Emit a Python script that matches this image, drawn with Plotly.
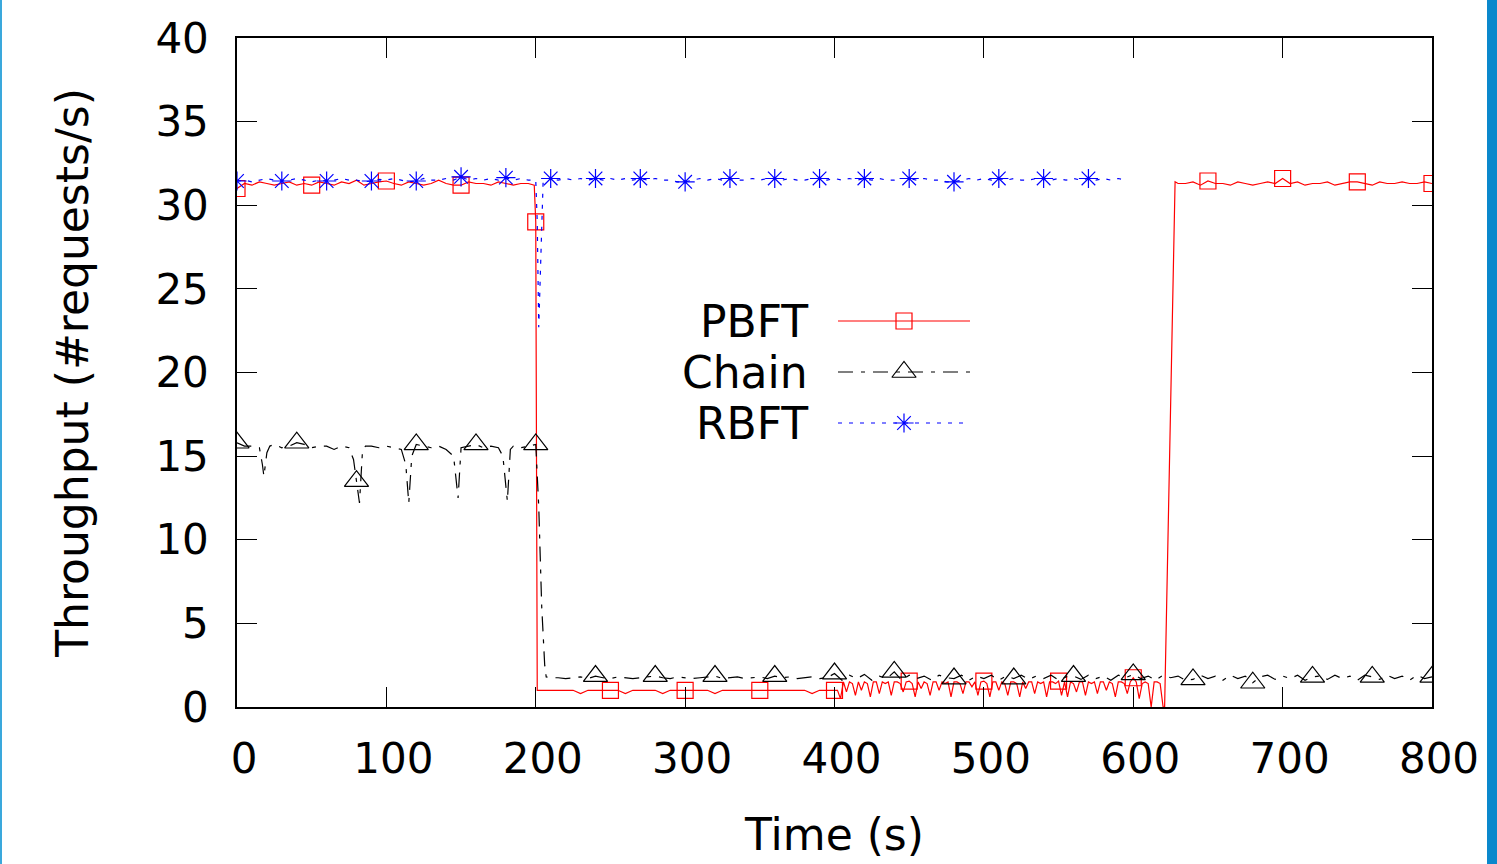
import plotly.graph_objects as go

# ---------------- data ----------------
# PBFT
PBFT_T = (list(range(0, 200, 5)) + [199, 200, 201] + list(range(205, 400, 5))
          + list(range(400, 620, 2)) + [620, 621, 628] + list(range(630, 801, 5)))
PBFT_Y = (
    [31.0, 31.3, 31.2, 31.4, 31.3, 31.2, 31.3, 31.4, 31.2, 31.3,
     31.2, 31.4, 31.3, 31.2, 31.4, 31.3, 31.5, 31.2, 31.3, 31.4,
     31.45, 31.3, 31.2, 31.4, 31.3, 31.2, 31.3, 31.5, 31.3, 31.2,
     31.2, 31.4, 31.3, 31.3, 31.2, 31.4, 31.3, 31.2, 31.3, 31.3]
    + [31.2, 29.0, 1.0]
    + [1.0, 1.0, 1.0, 1.0, 1.0, 0.8, 1.0, 1.0, 1.0, 1.0,
       1.0, 0.8, 1.0, 1.0, 1.0, 1.0, 0.8, 1.0, 1.0, 1.0,
       1.0, 1.0, 1.0, 0.8, 1.0, 1.0, 1.0, 1.0, 1.0, 1.0,
       1.0, 1.0, 1.0, 1.0, 1.0, 1.0, 0.8, 1.0, 1.0]
    + [1.0, 1.0, 0.5, 1.5, 0.9, 1.5, 1.4, 0.7, 1.5, 1.0,
       1.5, 1.4, 0.6, 1.5, 1.5, 0.8, 1.5, 1.4, 1.5, 0.7,
       1.5, 1.5, 1.4, 0.9, 1.5, 1.55, 1.4, 0.6, 1.5, 1.1,
       1.5, 1.4, 0.7, 1.5, 1.5, 1.0, 1.5, 1.4, 1.5, 0.6,
       1.5, 1.5, 1.4, 0.8, 1.5, 1.5, 1.2, 1.5, 0.7, 1.5,
       1.55, 1.4, 0.6, 1.5, 1.5, 1.0, 1.5, 1.4, 0.7, 1.5,
       1.5, 1.4, 0.6, 1.5, 1.1, 1.5, 1.5, 0.8, 1.5, 1.4,
       1.5, 0.6, 1.5, 1.5, 1.4, 1.55, 0.7, 1.5, 0.6, 1.5,
       1.4, 0.9, 1.5, 1.5, 0.7, 1.5, 1.4, 1.5, 0.8, 1.5,
       1.5, 1.0, 1.5, 1.4, 0.6, 1.5, 1.5, 1.4, 0.8, 1.5,
       1.75, 1.5, 0.5, 1.4, 1.5, 1.4, 0.0, 1.5, 1.5, 1.4]
    + [0.0, 0.0, 31.4]
    + [31.3, 31.3, 31.4, 31.2, 31.45, 31.3, 31.3, 31.2, 31.4, 31.3,
       31.2, 31.3, 31.4, 31.3, 31.6, 31.3, 31.4, 31.2, 31.3, 31.3,
       31.4, 31.2, 31.3, 31.4, 31.4, 31.3, 31.2, 31.4, 31.3, 31.3,
       31.4, 31.3, 31.3, 31.4, 31.3]
)

# Chain
CHAIN_T = ([0, 5, 10, 15, 17, 18, 20, 22, 25, 30, 35, 40, 45, 50, 55, 60, 65, 70, 75, 78,
            80, 82, 84, 86, 90, 95, 100, 105, 110, 113, 115, 117, 120, 125, 130, 135, 140,
            145, 148, 150, 155, 160, 165, 170, 175, 178, 181, 183, 185, 190, 195, 200, 202,
            204, 206, 207] + list(range(210, 801, 5)))
CHAIN_Y = (
    [15.8, 15.6, 15.6, 15.5, 14.5, 13.8, 15.2, 15.6, 15.7, 15.5, 15.6, 15.8, 15.7, 15.5,
     15.6, 15.6, 15.4, 15.6, 15.5, 14.8, 13.5, 12.2, 15.3, 15.6, 15.6, 15.5, 15.6, 15.5,
     15.4, 14.5, 12.2, 15.0, 15.7, 15.6, 15.5, 15.6, 15.4, 15.0, 12.5, 15.5, 15.6, 15.7,
     15.5, 15.6, 15.5, 15.0, 12.3, 15.4, 15.6, 15.5, 15.6, 15.7, 12.0, 6.0, 2.5, 1.8]
    + [1.75, 1.75, 1.7, 1.75, 1.8, 1.7, 1.85, 1.75, 1.7, 1.8,
       1.75, 1.7, 1.75, 1.8, 1.85, 1.75, 1.7, 1.8, 1.75, 1.7,
       1.75, 1.8, 1.85, 1.7, 1.75, 1.8, 1.7, 1.75, 1.8, 1.7,
       1.85, 1.75, 1.8, 1.7, 1.75, 1.8, 1.7, 1.75, 2.0, 1.6,
       1.9, 1.7, 1.95, 1.6, 1.85, 1.7, 2.1, 1.6, 1.9, 1.7,
       1.85, 1.6, 1.9, 1.75, 1.7, 1.9, 1.6, 1.85, 1.7, 1.9,
       1.6, 1.85, 1.7, 1.9, 1.65, 1.85, 1.7, 1.9, 1.6, 1.8,
       1.85, 1.65, 1.9, 1.7, 1.85, 1.6, 1.9, 1.75, 1.95, 1.7,
       1.85, 1.6, 1.9, 1.75, 1.85, 1.6, 1.65, 1.9, 1.7, 1.85,
       1.6, 1.9, 1.7, 1.85, 1.45, 1.8, 1.9, 1.65, 1.85, 1.7,
       1.9, 1.6, 1.8, 1.85, 1.65, 1.9, 1.7, 1.85, 1.6, 1.9,
       1.8, 1.65, 1.9, 1.7, 1.85, 1.6, 1.9, 1.7, 1.8]
)

# RBFT
RBFT_T = list(range(0, 201, 5)) + [201, 202, 205] + list(range(210, 596, 5))
RBFT_Y = (
    [31.45, 31.5, 31.4, 31.5, 31.6, 31.5, 31.45, 31.5, 31.6, 31.5,
     31.4, 31.5, 31.45, 31.5, 31.6, 31.5, 31.5, 31.4, 31.45, 31.55,
     31.5, 31.6, 31.5, 31.4, 31.45, 31.6, 31.5, 31.5, 31.6, 31.5,
     31.7, 31.5, 31.6, 31.5, 31.6, 31.5, 31.65, 31.5, 31.6, 31.5,
     31.5]
    + [29.0, 22.7, 31.6]
    + [31.6, 31.5, 31.6, 31.5, 31.6, 31.5, 31.6, 31.5, 31.6, 31.5,
       31.6, 31.5, 31.6, 31.5, 31.6, 31.5, 31.5, 31.4, 31.4, 31.5,
       31.6, 31.5, 31.6, 31.5, 31.6, 31.5, 31.5, 31.6, 31.5, 31.6,
       31.6, 31.5, 31.6, 31.5, 31.5, 31.6, 31.6, 31.5, 31.6, 31.5,
       31.6, 31.5, 31.6, 31.5, 31.6, 31.5, 31.5, 31.6, 31.6, 31.5,
       31.6, 31.5, 31.5, 31.4, 31.4, 31.5, 31.6, 31.5, 31.6, 31.5,
       31.6, 31.5, 31.6, 31.5, 31.5, 31.6, 31.6, 31.5, 31.6, 31.5,
       31.6, 31.5, 31.6, 31.5, 31.6, 31.5, 31.6, 31.5]
)

assert len(PBFT_T) == len(PBFT_Y), (len(PBFT_T), len(PBFT_Y))
assert len(CHAIN_T) == len(CHAIN_Y), (len(CHAIN_T), len(CHAIN_Y))
assert len(RBFT_T) == len(RBFT_Y), (len(RBFT_T), len(RBFT_Y))

SERIES = ["PBFT", "Chain", "RBFT"]
X_TICKS = [0, 100, 200, 300, 400, 500, 600, 700, 800]
Y_TICKS = [0, 5, 10, 15, 20, 25, 30, 35, 40]

# ---------------- styles ----------------
FONT = "DejaVu Sans"
STYLE = {
    "PBFT": dict(color="#ff0000", dash="solid", symbol="square-open", size=16, every=50),
    "Chain": dict(color="#000000", dash="15px,8px,4px,8px", symbol="triangle-up-open", size=21, every=40),
    "RBFT": dict(color="#0000ff", dash="4px,7px", symbol="asterisk-open", size=16, every=30),
}
DATA = {"PBFT": (PBFT_T, PBFT_Y), "Chain": (CHAIN_T, CHAIN_Y), "RBFT": (RBFT_T, RBFT_Y)}

fig = go.Figure()
for name in SERIES:
    t, y = DATA[name]
    s = STYLE[name]
    fig.add_trace(go.Scatter(x=t, y=y, mode="lines", showlegend=False,
                             line=dict(color=s["color"], width=1.2, dash=s["dash"])))
    mt = [a for a, b in zip(t, y) if a % s["every"] == 0]
    my = [b for a, b in zip(t, y) if a % s["every"] == 0]
    fig.add_trace(go.Scatter(x=mt, y=my, mode="markers", showlegend=False,
                             marker=dict(symbol=s["symbol"], size=s["size"], color=s["color"],
                                         line=dict(width=1.2, color=s["color"]))))

# ---------------- manual legend (text left of sample) ----------------
L, R, T, B = 237, 1432, 38, 707
W, H = 1497, 864
def px_x(p):
    return (p - L) / (R - L)
def px_y(p):
    return (B - p) / (B - T)

LEG_ROWS = {"PBFT": 321, "Chain": 372, "RBFT": 423}
LEG_TEXT_RIGHT = 810
LEG_LINE = (838, 970)
LEG_MARK = 904
annotations = []
for name in SERIES:
    s = STYLE[name]
    yy = px_y(LEG_ROWS[name])
    fig.add_trace(go.Scatter(x=[px_x(LEG_LINE[0]), px_x(LEG_LINE[1])], y=[yy, yy], mode="lines",
                             xaxis="x2", yaxis="y2", showlegend=False,
                             line=dict(color=s["color"], width=1.2, dash=s["dash"])))
    fig.add_trace(go.Scatter(x=[px_x(LEG_MARK)], y=[yy], mode="markers", xaxis="x2", yaxis="y2",
                             showlegend=False,
                             marker=dict(symbol=s["symbol"], size=s["size"], color=s["color"],
                                         line=dict(width=1.2, color=s["color"]))))
    annotations.append(dict(text=name, x=px_x(LEG_TEXT_RIGHT), y=yy, xref="paper", yref="paper",
                            xanchor="right", yanchor="middle", showarrow=False,
                            font=dict(family=FONT, size=44, color="black")))

# blue frame decorations at the page edges
shapes = [
    dict(type="rect", xref="paper", yref="paper", x0=px_x(1487), x1=px_x(1498),
         y0=px_y(H + 2), y1=px_y(-2), fillcolor="#0a88cc", line=dict(width=0), layer="above"),
    dict(type="rect", xref="paper", yref="paper", x0=px_x(-1), x1=px_x(2),
         y0=px_y(H + 2), y1=px_y(-2), fillcolor="#3aa8dc", line=dict(width=0), layer="above"),
]

axis_common = dict(showline=True, linecolor="black", linewidth=1.5, mirror="ticks",
                   ticks="inside", ticklen=20, tickwidth=1, tickcolor="black",
                   showgrid=False, zeroline=False,
                   tickfont=dict(family=FONT, size=42, color="black"))

fig.update_layout(
    width=W, height=H,
    margin=dict(l=L, r=W - R, t=T, b=H - B),
    paper_bgcolor="white", plot_bgcolor="white",
    font=dict(family=FONT, size=42, color="black"),
    xaxis=dict(range=[0, 800], tickvals=X_TICKS, ticktext=[str(v) for v in X_TICKS],
               ticklabelshift=7, ticklabelstandoff=14,
               title=dict(text="Time (s)", font=dict(family=FONT, size=44), standoff=37),
               **axis_common),
    yaxis=dict(range=[0, 40], tickvals=Y_TICKS, ticktext=[str(v) for v in Y_TICKS],
               ticklabelstandoff=18,
               title=dict(text="Throughput (#requests/s)", font=dict(family=FONT, size=44), standoff=53),
               **axis_common),
    xaxis2=dict(range=[0, 1], domain=[0, 1], overlaying="x", visible=False),
    yaxis2=dict(range=[0, 1], domain=[0, 1], overlaying="y", visible=False),
    annotations=annotations,
    shapes=shapes,
    showlegend=False,
)

fig.write_html("out.html", config={"displayModeBar": False},
               post_script="document.body.style.margin='0';")
